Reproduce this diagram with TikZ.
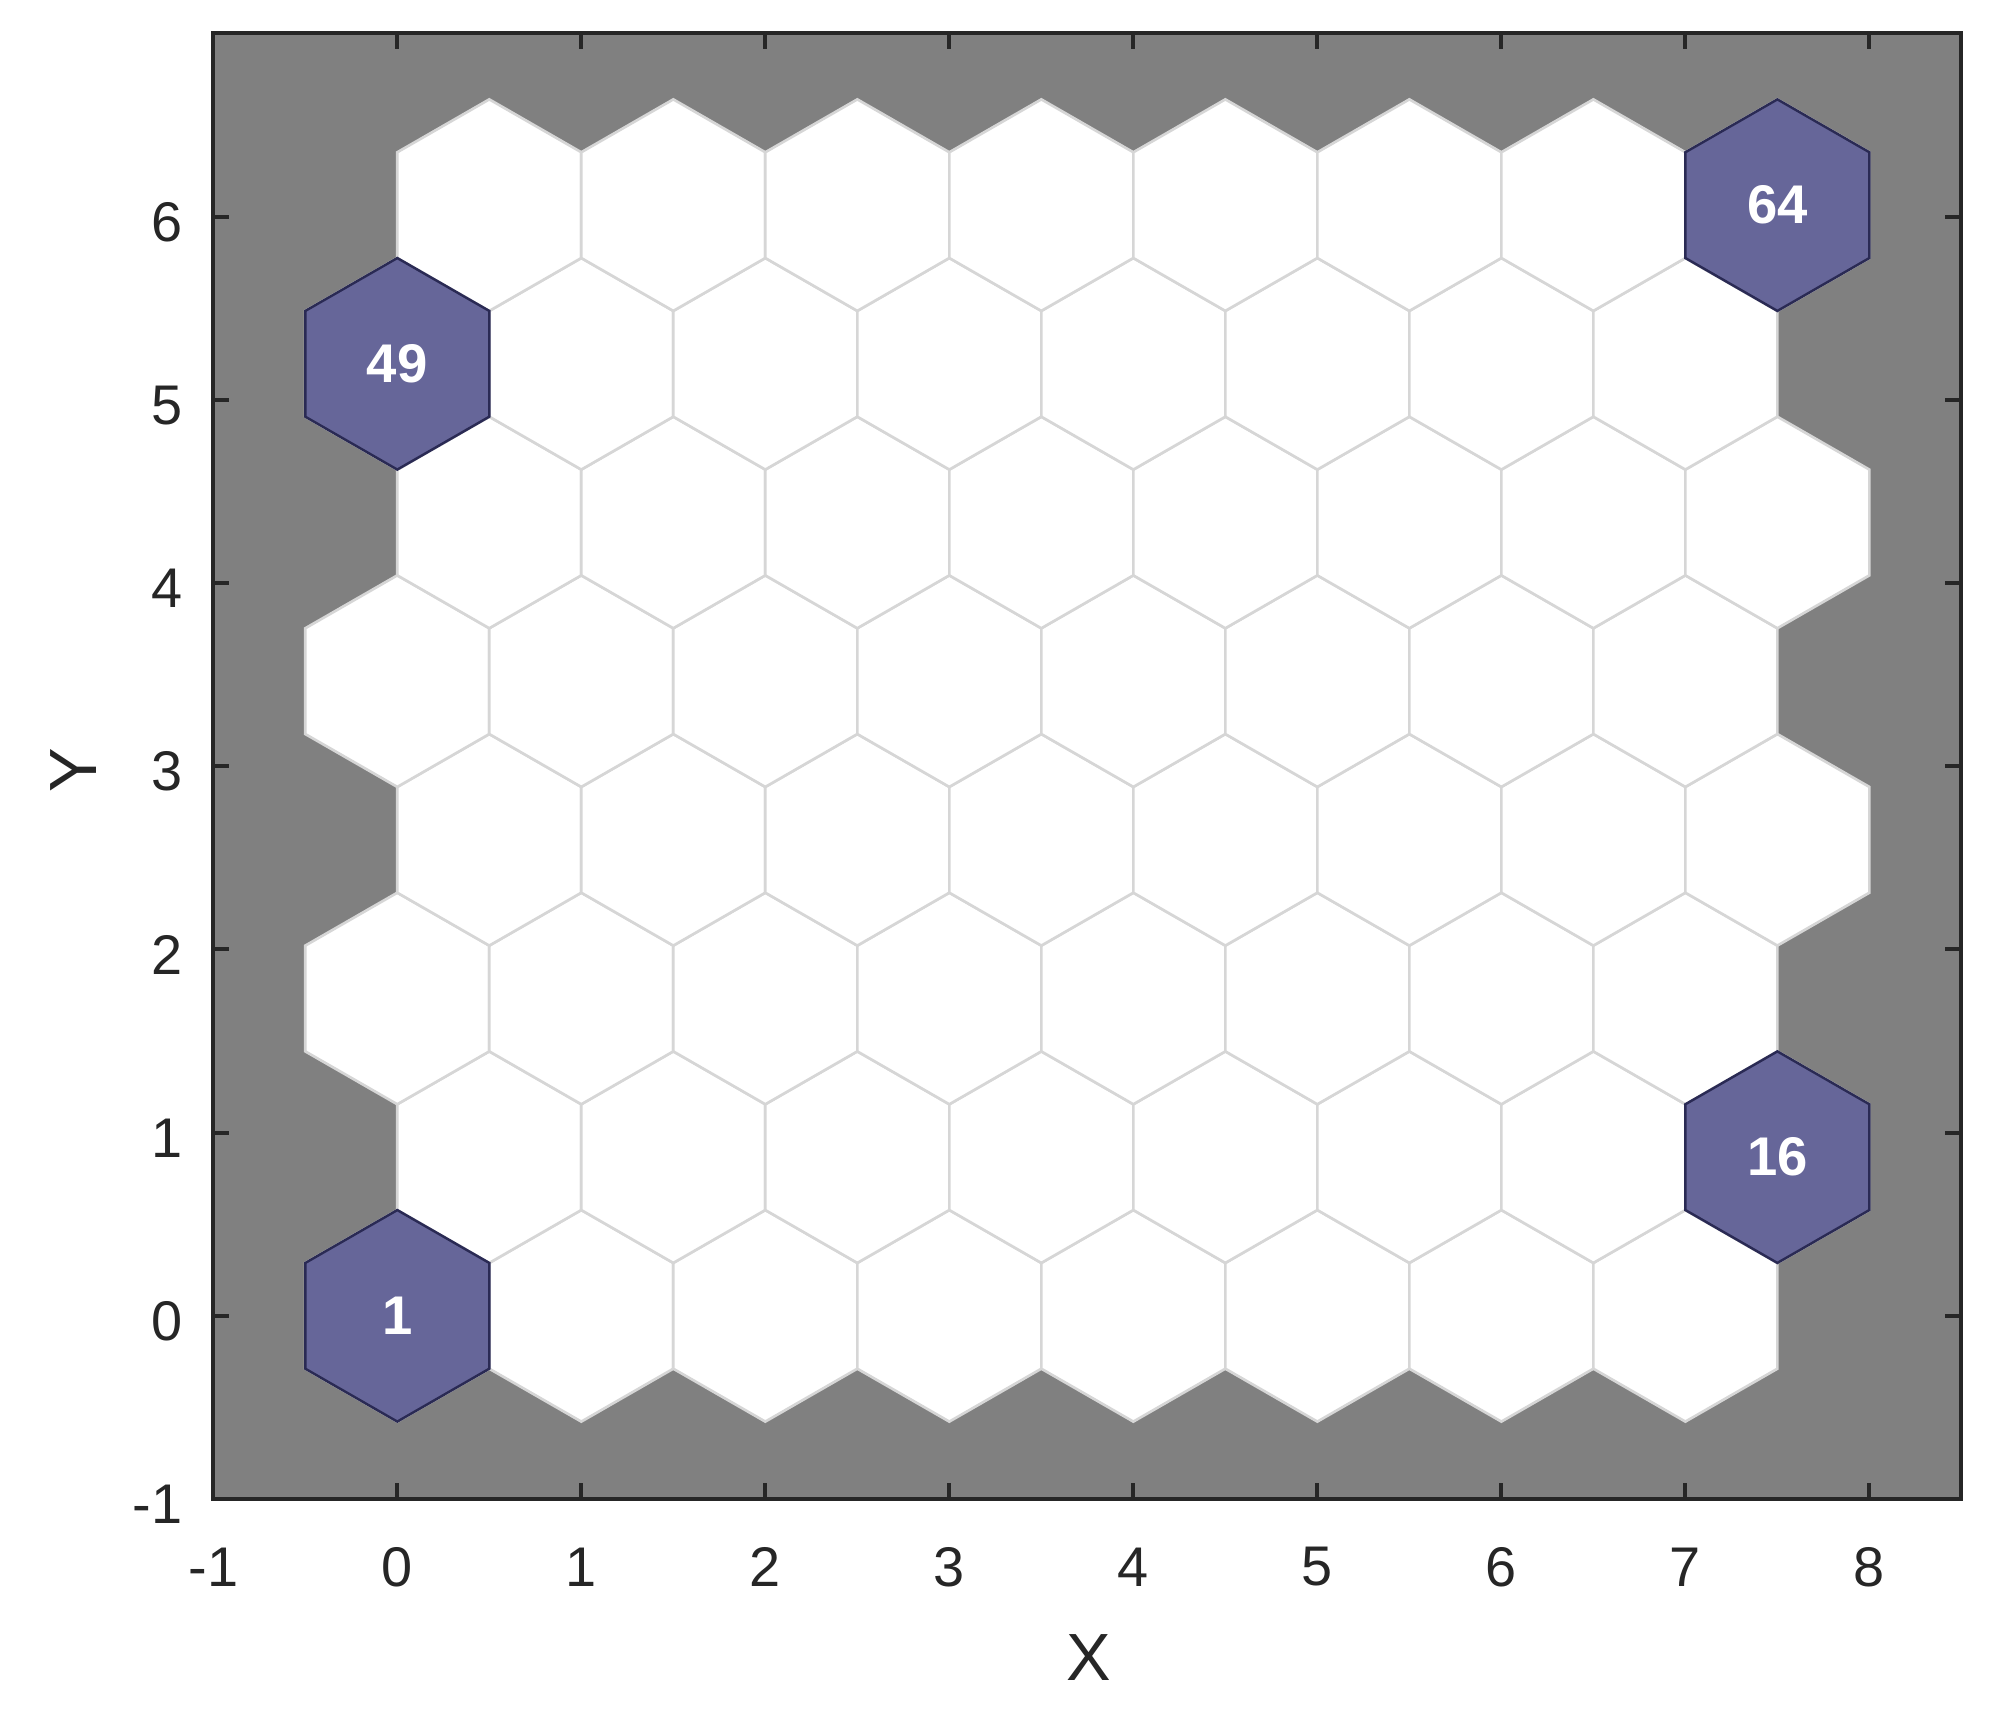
\documentclass[tikz,border=0pt]{standalone}
\usepackage{fontspec}
\setmainfont{Liberation Sans}
\definecolor{bggray}{RGB}{128,128,128}
\definecolor{hexedge}{RGB}{214,214,214}
\definecolor{hitfill}{RGB}{102,102,153}
\definecolor{hitedge}{RGB}{42,42,84}
\definecolor{axcol}{RGB}{38,38,38}
\newcommand\hexcell[3]{\draw[#3] (#1,#2) ++(0,0.57735) -- ++(0.5,-0.288675) -- ++(0,-0.57735) -- ++(-0.5,-0.288675) -- ++(-0.5,0.288675) -- ++(0,0.57735) -- cycle;}
\begin{document}
\begin{tikzpicture}[x=1.840cm,y=1.832cm,
  hexw/.style={fill=white,draw=hexedge,line width=0.75pt,line join=miter},
  hexhit/.style={fill=hitfill,draw=hitedge,line width=0.7pt,line join=miter},
  hitlabel/.style={text=white,font=\fontsize{15.5}{18}\selectfont\bfseries,inner sep=0pt},
  axisline/.style={draw=axcol,line width=1.15pt},
  ticklabel/.style={text=axcol,font=\fontsize{15.9}{18}\selectfont,inner sep=0pt},
  axlabel/.style={text=axcol,font=\fontsize{19}{22}\selectfont,inner sep=0pt}]
\useasboundingbox (-2.159,-2.147) rectangle (8.699,7.182);
\fill[bggray] (-1,-1) rectangle (8.5,7);
\foreach \r in {0,...,7}{
  \foreach \c in {0,...,7}{
    \pgfmathsetmacro\cx{\c+0.5*mod(\r,2)}
    \pgfmathsetmacro\cy{\r*0.866025}
    \hexcell{\cx}{\cy}{hexw}
  }
}
\hexcell{0}{0}{hexhit}
\hexcell{7.5}{0.866025}{hexhit}
\hexcell{0}{5.19615}{hexhit}
\hexcell{7.5}{6.062175}{hexhit}
\node[hitlabel] (n1) at (0,0) {1};
\node[hitlabel] (n16) at (7.5,0.866025) {16};
\node[hitlabel] (n49) at (0,5.19615) {49};
\node[hitlabel] (n64) at (7.5,6.062175) {64};
\draw[axisline,line join=miter] (-1,-1) rectangle (8.5,7);
\foreach \x in {-1,...,8}{
  \draw[axisline] (\x,-1) -- ++(0,0.087);
  \draw[axisline] (\x,7) -- ++(0,-0.087);
  \node[ticklabel] (xt\x) at (\x,-1.370) {\x};
}
\foreach \y in {-1,...,6}{
  \draw[axisline] (-1,\y) -- ++(0.087,0);
  \draw[axisline] (8.5,\y) -- ++(-0.087,0);
  \node[ticklabel,anchor=east] (yt\y) at (-1.163,\y-0.03) {\y};
}
\node[axlabel] (xlab) at (3.759,-1.863) {X};
\node[axlabel,rotate=90] (ylab) at (-1.757,2.979) {Y};
\end{tikzpicture}
\end{document}
